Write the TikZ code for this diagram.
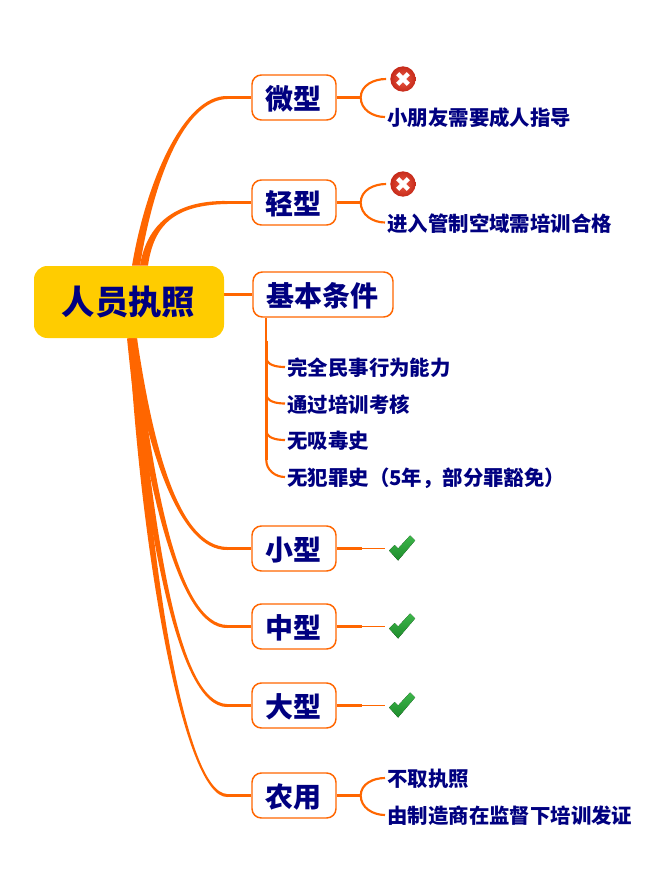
\documentclass[tikz,border=0pt]{standalone}
\usepackage{fontspec}
\setmainfont{Noto Sans CJK SC}
\usepackage{tikz}
\usetikzlibrary{positioning,calc,backgrounds}

\definecolor{branchorange}{HTML}{FF6600}
\definecolor{rootyellow}{HTML}{FFCC00}
\definecolor{labelnavy}{HTML}{000080}
\definecolor{nolight}{HTML}{EC5A44}
\definecolor{nodark}{HTML}{C62A1A}
\definecolor{oklight}{HTML}{3DB54A}
\definecolor{okdark}{HTML}{1E8C2C}

% tapered branch: root anchor, x shift, first control, offset of second control, target, half width at target
\newcommand{\trunkline}[6]{%
  \fill[branchorange] ($(#1)+(#2-4,0)$) .. controls ($(#3)+(-3.6,0)$) and ($(#5.west)+(#4,1.6*#6)$) .. ($(#5.west)+(-24,#6)$)
    -- ($(#5.west)+(-24,-#6)$) .. controls ($(#5.west)+(#4,-1.6*#6)$) and ($(#3)+(3.6,0)$) .. ($(#1)+(#2+4,0)$) -- cycle;
  \draw[twig] ($(#5.west)+(-25,0)$) -- (#5.west);
}

\begin{document}
\begin{tikzpicture}[
  x=0.75pt, y=-0.75pt,
  font=\bfseries,
  rootbox/.style={fill=rootyellow, rounded corners=10pt, minimum width=142.5pt, minimum height=54pt, inner sep=0pt, text=labelnavy, font=\fontsize{25pt}{26pt}\bfseries},
  topic/.style={draw=branchorange, line width=1.1pt, fill=white, rounded corners=7pt, minimum height=33.75pt, minimum width=63pt, inner sep=0pt, text=labelnavy, text height=19.5pt, text depth=2pt, font=\fontsize{21pt}{23pt}\bfseries, execute at begin node=\hspace*{-1.2pt}},
  leaf/.style={anchor=west, inner sep=1.6pt, text=labelnavy, text height=14.5pt, text depth=1.5pt, font=\fontsize{15.3pt}{17pt}\bfseries},
  twig/.style={draw=branchorange, line width=1.6pt},
  thintwig/.style={draw=branchorange, line width=1.3pt},
  stemline/.style={draw=branchorange, line width=2.3pt},
  nomark/.style={circle, minimum size=19pt, inner sep=0pt, outer sep=3.2pt, inner color=nolight, outer color=nodark,
    path picture={\draw[white, line width=3.3pt] ([shift={(-4pt,-4pt)}]path picture bounding box.center) -- ([shift={(4pt,4pt)}]path picture bounding box.center);
      \draw[white, line width=3.3pt] ([shift={(-4pt,4pt)}]path picture bounding box.center) -- ([shift={(4pt,-4pt)}]path picture bounding box.center);}},
  okmark/.style={minimum size=21pt, inner sep=0pt, outer sep=2pt,
    path picture={\begin{scope}[shift={(path picture bounding box.center)}]
      \fill[top color=oklight, bottom color=okdark] (-13,2) -- (-7.5,-3.5) -- (-4,0) -- (8,-13) -- (13,-8) -- (-4,12) -- cycle;
    \end{scope}}}
]
\useasboundingbox (0,0) rectangle (671,875);

\node[rootbox] (root) at (129,302) {\hspace*{-1pt}\raisebox{-3pt}{人员执照}};

\node[topic] (wei) at (294,97.5) {微型};
\node[topic, below=43.9pt of wei] (qing) {轻型};
\node[topic, minimum width=105pt] (jiben) at (323,294.5) {基本条件};
\node[topic] (xiao) at (294,548.5) {小型};
\node[topic, below=23.65pt of xiao] (zhong) {中型};
\node[topic, below=24.4pt of zhong] (da) {大型};
\node[topic, below=32.65pt of da] (nong) {农用};

\node[nomark] (weiNo) at (403,79) {};
\node[leaf] (weiKid) at (385,117) {小朋友需要成人指导};
\node[nomark] (qingNo) at (403,184) {};
\node[leaf] (qingKid) at (385,222.5) {进入管制空域需培训合格};

\node[leaf] (baseA) at (285,367) {完全民事行为能力};
\node[leaf] (baseB) at (285,403.5) {通过培训考核};
\node[leaf] (baseC) at (285,440) {无吸毒史};
\node[leaf] (baseD) at (285,477) {无犯罪史（5年，部分罪豁免）};

\node[okmark, right=36.5pt of xiao] (xiaoOk) {};
\node[okmark, right=36.5pt of zhong] (zhongOk) {};
\node[okmark, right=36.5pt of da] (daOk) {};

\node[leaf] (nongA) at (385,778) {不取执照};
\node[leaf] (nongB) at (385,815) {由制造商在监督下培训发证};

\coordinate (weiFork) at ($(wei.east)+(24,0)$);
\coordinate (qingFork) at ($(qing.east)+(24,0)$);
\coordinate (nongFork) at ($(nong.east)+(24,0)$);
\coordinate (xiaoFork) at ($(xiao.east)+(25,0)$);
\coordinate (zhongFork) at ($(zhong.east)+(25,0)$);
\coordinate (daFork) at ($(da.east)+(25,0)$);
\coordinate (baseDrop) at ($(jiben.south west)+(14,0)$);
\coordinate (baseMid) at ($(baseDrop)+(0,23)$);

\begin{scope}[on background layer]
\trunkline{root.north}{7}{150,180}{-67}{wei}{-1.5}
\trunkline{root.north}{15}{150,225}{-77}{qing}{-1.5}
\trunkline{root.south}{4}{150,450}{-72}{xiao}{1.5}
\trunkline{root.south}{3}{150,490}{-72}{zhong}{1.5}
\trunkline{root.south}{2}{150,530}{-74}{da}{1.5}
\trunkline{root.south}{4}{145,560}{-67}{nong}{1.5}
\draw[twig] (root.east |- jiben.west) -- (jiben.west);
\end{scope}

\draw[twig] (wei.east) -- (weiFork);
\draw[twig] (weiFork) to[out=90,in=180] (weiNo.west);
\draw[twig] (weiFork) to[out=-90,in=180] (weiKid.west);
\draw[twig] (qing.east) -- (qingFork);
\draw[twig] (qingFork) to[out=90,in=180] (qingNo.west);
\draw[twig] (qingFork) to[out=-90,in=180] (qingKid.west);

\draw[twig] (baseDrop) -- (baseMid);
\draw[stemline] (baseMid) -- ($(baseDrop |- baseD.west)+(0,-17)$);
\draw[twig] ($(baseDrop |- baseA.west)+(0,-10)$) to[out=-90,in=180] (baseA.west);
\draw[twig] ($(baseDrop |- baseB.west)+(0,-10)$) to[out=-90,in=180] (baseB.west);
\draw[twig] ($(baseDrop |- baseC.west)+(0,-10)$) to[out=-90,in=180] (baseC.west);
\draw[twig] ($(baseDrop |- baseD.west)+(0,-17)$) to[out=-90,in=180] (baseD.west);

\draw[stemline] (xiao.east) -- (xiaoFork);
\draw[thintwig] (xiaoFork) -- (xiaoOk.west);
\draw[stemline] (zhong.east) -- (zhongFork);
\draw[thintwig] (zhongFork) -- (zhongOk.west);
\draw[stemline] (da.east) -- (daFork);
\draw[thintwig] (daFork) -- (daOk.west);

\draw[twig] (nong.east) -- (nongFork);
\draw[twig] (nongFork) to[out=90,in=180] (nongA.west);
\draw[twig] (nongFork) to[out=-90,in=180] (nongB.west);
\end{tikzpicture}
\end{document}
